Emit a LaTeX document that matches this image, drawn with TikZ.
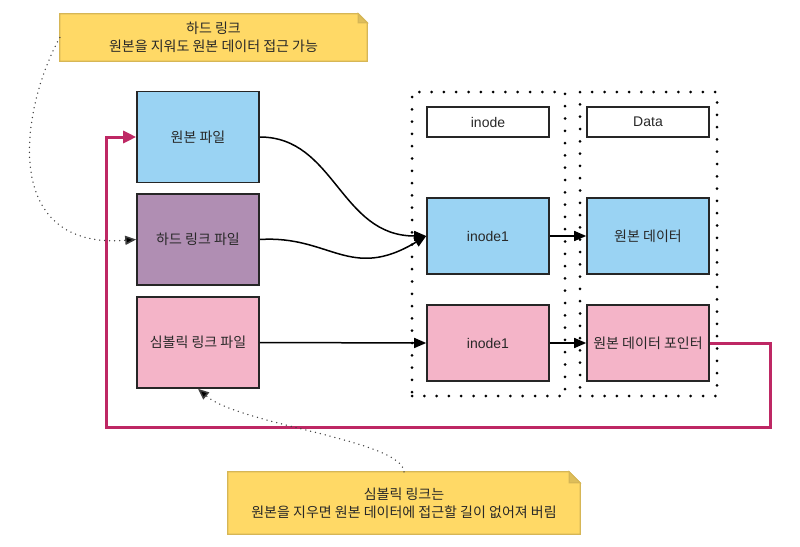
\documentclass[tikz,border=0pt]{standalone}
\usepackage{fontspec}
\setmainfont{Liberation Sans}
\newfontfamily\kr{Noto Sans CJK KR}
\usetikzlibrary{arrows.meta,backgrounds}
\definecolor{boxblue}{RGB}{154,211,243}
\definecolor{boxpurple}{RGB}{176,142,179}
\definecolor{boxpink}{RGB}{244,180,200}
\definecolor{notefill}{RGB}{255,217,102}
\definecolor{noteline}{RGB}{214,182,86}
\definecolor{notefold}{RGB}{222,190,90}
\definecolor{magentaline}{RGB}{190,40,100}
\definecolor{txt}{RGB}{40,40,40}
\begin{document}
\begin{tikzpicture}[x=1pt,y=-1pt,
  every node/.style={font=\kr\fontsize{14}{18}\selectfont, text=txt},
  latin/.style={font=\fontsize{14}{18}\selectfont},
  filebox/.style={draw=black!85, line width=1.6pt, minimum width=122pt, minimum height=91pt, inner sep=0pt},
  cellbox/.style={draw=black!85, line width=1.6pt, minimum width=122pt, minimum height=76pt, inner sep=0pt},
  headbox/.style={draw=black!85, line width=1.6pt, minimum width=122pt, minimum height=30pt, inner sep=0pt, fill=white},
  notebox/.style={inner sep=0pt, align=center},
  container/.style={draw=black, line width=3pt, dash pattern=on 0pt off 12.3pt, line cap=round},
  arr/.style={draw=black, line width=1.5pt, -{Triangle[length=12pt,width=10pt]}},
  noteln/.style={draw=black!75, line width=1.5pt, dash pattern=on 0pt off 5pt, line cap=round, -{Triangle[length=11pt,width=9pt,fill=black]}},
  symln/.style={draw=magentaline, line width=3pt, -{Triangle[length=13pt,width=12pt]}}
]
\useasboundingbox (0,0) rectangle (800,546);

% containers
\node[container, minimum width=153pt, minimum height=304pt, inner sep=0pt] (cinode) at (488.5,244) {};
\node[container, minimum width=137pt, minimum height=304pt, inner sep=0pt] (cdata) at (648.5,244) {};

% file boxes
\node[filebox, fill=boxblue] (orig) at (198,137) {원본 파일};
\node[filebox, fill=boxpurple] (hard) at (198,239.5) {하드 링크 파일};
\node[filebox, fill=boxpink] (sym) at (198,342.5) {심볼릭 링크 파일};

% headers
\node[headbox, latin] (hinode) at (488,122) {inode};
\node[headbox, latin] (hdata) at (648,122) {Data};

% cells
\node[cellbox, fill=boxblue, latin] (ino1) at (488,236) {inode1};
\node[cellbox, fill=boxblue] (data1) at (648,236) {원본 데이터};
\node[cellbox, fill=boxpink, latin] (ino2) at (488,343) {inode1};
\node[cellbox, fill=boxpink] (ptr) at (648,343) {원본 데이터 포인터};

% notes
\node[notebox, minimum width=307pt, minimum height=47pt] (note1) at (213.5,37.5) {하드 링크\\원본을 지워도 원본 데이터 접근 가능};
\node[notebox, minimum width=352pt, minimum height=62pt] (note2) at (404,503) {심볼릭 링크는\\원본을 지우면 원본 데이터에 접근할 길이 없어져 버림};
\begin{scope}[on background layer]
  \filldraw[fill=notefill, draw=noteline, line width=1.2pt]
    (note1.south west) -- (note1.north west) -- ([xshift=-9pt]note1.north east)
    -- ([yshift=-9pt]note1.north east) -- (note1.south east) -- cycle;
  \filldraw[fill=notefold, draw=noteline, line width=1.2pt]
    ([xshift=-9pt]note1.north east) -- ([xshift=-9pt,yshift=-9pt]note1.north east) -- ([yshift=-9pt]note1.north east) -- cycle;
  \filldraw[fill=notefill, draw=noteline, line width=1.2pt]
    (note2.south west) -- (note2.north west) -- ([xshift=-11pt]note2.north east)
    -- ([yshift=-11pt]note2.north east) -- (note2.south east) -- cycle;
  \filldraw[fill=notefold, draw=noteline, line width=1.2pt]
    ([xshift=-11pt]note2.north east) -- ([xshift=-11pt,yshift=-11pt]note2.north east) -- ([yshift=-11pt]note2.north east) -- cycle;
\end{scope}

% connectors
\draw[arr] (orig.east) .. controls (335,137) and (340,236) .. (ino1.west);
\draw[arr] (hard.east) .. controls (330,235) and (350,282) .. (ino1.west);
\draw[arr] (sym.east) -- (ino2.west);
\draw[arr] (ino1.east) -- (data1.west);
\draw[arr] (ino2.east) -- (ptr.west);

\coordinate (s1) at (770,343);
\coordinate (s2) at (770,427);
\coordinate (s3) at (106,427);
\coordinate (s4) at (106,137);
\draw[symln] (ptr.east) -- (s1) -- (s2) -- (s3) -- (s4) -- (orig.west);

\draw[noteln] (note1.west) .. controls (20,110) and (0,250) .. (hard.west);
\draw[noteln] (note2.north) .. controls (402,440) and (240,425) .. (sym.south);
\end{tikzpicture}
\end{document}
